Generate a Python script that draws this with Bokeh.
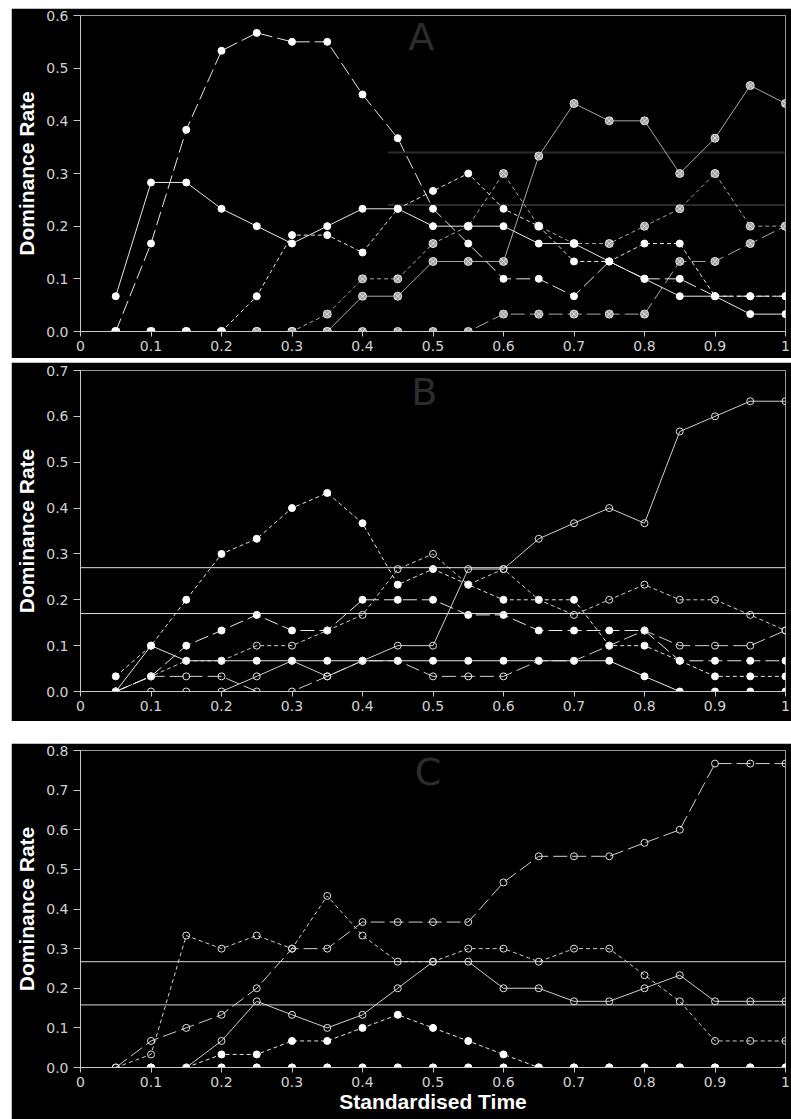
import math
from bokeh.plotting import figure
from bokeh.models import Span, Label, FixedTicker, Spacer
from bokeh.layouts import column, row
from bokeh.embed import file_html
from bokeh.resources import INLINE

nan = float("nan")

# ---------------- data ----------------
x = [0.05, 0.1, 0.15, 0.2, 0.25, 0.3, 0.35, 0.4, 0.45, 0.5,
     0.55, 0.6, 0.65, 0.7, 0.75, 0.8, 0.85, 0.9, 0.95, 1.0]

x_ticks = [0, 0.1, 0.2, 0.3, 0.4, 0.5, 0.6, 0.7, 0.8, 0.9, 1]
x_tick_labels = ["0", "0.1", "0.2", "0.3", "0.4", "0.5", "0.6", "0.7", "0.8", "0.9", "1"]

# Panel A
a_y_ticks = [0, 0.1, 0.2, 0.3, 0.4, 0.5, 0.6]
a_y_tick_labels = ["0.0", "0.1", "0.2", "0.3", "0.4", "0.5", "0.6"]
a_long_filled = [0, 0.167, 0.383, 0.533, 0.567, 0.55, 0.55, 0.45, 0.367, 0.233,
                 0.167, 0.1, 0.1, 0.067, 0.133, 0.1, 0.1, 0.067, 0.067, 0.067]
a_solid_filled = [0.067, 0.283, 0.283, 0.233, 0.2, 0.167, 0.2, 0.233, 0.233, 0.2,
                  0.2, 0.2, 0.167, 0.167, 0.133, 0.1, 0.067, 0.067, 0.033, 0.033]
a_short_filled = [0, 0, 0, 0, 0.067, 0.183, 0.183, 0.15, 0.233, 0.267,
                  0.3, 0.233, 0.2, 0.133, 0.133, 0.167, 0.167, 0.067, 0.067, 0.067]
a_solid_grey = [0, 0, 0, 0, 0, 0, 0, 0.067, 0.067, 0.133,
                0.133, 0.133, 0.333, 0.433, 0.4, 0.4, 0.3, 0.367, 0.467, 0.433]
a_short_grey = [0, 0, 0, 0, 0, 0, 0.033, 0.1, 0.1, 0.167,
                0.2, 0.3, 0.2, 0.167, 0.167, 0.2, 0.233, 0.3, 0.2, 0.2]
a_long_grey = [0, 0, 0, 0, 0, 0, 0, 0, 0, 0,
               0, 0.033, 0.033, 0.033, 0.033, 0.033, 0.133, 0.133, 0.167, 0.2]
a_ref_lines = [0.34, 0.24]
a_ref_start = 0.436

# Panel B
b_y_ticks = [0, 0.1, 0.2, 0.3, 0.4, 0.5, 0.6, 0.7]
b_y_tick_labels = ["0.0", "0.1", "0.2", "0.3", "0.4", "0.5", "0.6", "0.7"]
b_short_filled = [0.033, 0.1, 0.2, 0.3, 0.333, 0.4, 0.433, 0.367, 0.233, 0.267,
                  0.233, 0.2, 0.2, 0.2, 0.1, 0.1, 0.067, 0.033, 0.033, 0.033]
b_solid_filled = [0, 0.1, 0.067, 0.067, 0.067, 0.067, 0.067, 0.067, 0.067, 0.067,
                  0.067, 0.067, 0.067, 0.067, 0.067, 0.033, 0, 0, 0, 0]
b_long_filled = [0, 0.033, 0.1, 0.133, 0.167, 0.133, 0.133, 0.2, 0.2, 0.2,
                 0.167, 0.167, 0.133, 0.133, 0.133, 0.133, 0.067, 0.067, 0.067, 0.067]
b_solid_open = [0, 0, 0, 0, 0.033, 0.067, 0.033, 0.067, 0.1, 0.1,
                0.267, 0.267, 0.333, 0.367, 0.4, 0.367, 0.567, 0.6, 0.633, 0.633]
b_short_open = [0, 0.033, 0.067, 0.067, 0.1, 0.1, 0.133, 0.167, 0.267, 0.3,
                0.233, 0.267, 0.2, 0.167, 0.2, 0.233, 0.2, 0.2, 0.167, 0.133]
b_long_open = [0, 0.033, 0.033, 0.033, 0, 0, 0.033, 0.067, 0.067, 0.033,
               0.033, 0.033, 0.067, 0.067, 0.1, 0.133, 0.1, 0.1, 0.1, 0.133]
b_ref_lines = [0.27, 0.17]

# Panel C
c_y_ticks = [0, 0.1, 0.2, 0.3, 0.4, 0.5, 0.6, 0.7, 0.8]
c_y_tick_labels = ["0.0", "0.1", "0.2", "0.3", "0.4", "0.5", "0.6", "0.7", "0.8"]
c_short_open = [0, 0.033, 0.333, 0.3, 0.333, 0.3, 0.433, 0.333, 0.267, 0.267,
                0.3, 0.3, 0.267, 0.3, 0.3, 0.233, 0.167, 0.067, 0.067, 0.067]
c_long_open = [0, 0.067, 0.1, 0.133, 0.2, 0.3, 0.3, 0.367, 0.367, 0.367,
               0.367, 0.467, 0.533, 0.533, 0.533, 0.567, 0.6, 0.767, 0.767, 0.767]
c_solid_open = [nan, nan, 0, 0.067, 0.167, 0.133, 0.1, 0.133, 0.2, 0.267,
                0.267, 0.2, 0.2, 0.167, 0.167, 0.2, 0.233, 0.167, 0.167, 0.167]
c_short_filled = [nan, 0, 0, 0.033, 0.033, 0.067, 0.067, 0.1, 0.133, 0.1,
                  0.067, 0.033, 0, 0, 0, 0, 0, 0, 0, 0]
c_solid_filled = [nan, 0, nan, 0, 0, 0, 0, 0, 0, 0,
                  0, 0, 0, 0, 0, 0, 0, 0, 0, 0]
c_long_filled = [nan, 0, nan, 0, 0, 0, 0, 0, 0, 0,
                 0, 0, 0, 0, 0, 0, 0, 0, 0, 0]
c_ref_lines = [0.267, 0.158]

# ---------------- styling ----------------
SHORT = "4 3"
LONG = "14 5"
WHITE_LINE = "#e6e6e6"
GREY_LINE = "#a8a8a8"
OPEN_LINE = "#cfcfcf"
FIG_W = 780


def make_fig(height, y_max, y_ticks, y_labels, mb_left, mb_right, mb_top, mb_bottom, xlabel=None):
    p = figure(width=FIG_W, height=height, x_range=(0, 1), y_range=(0, y_max),
               output_backend="svg", toolbar_location=None,
               min_border_left=mb_left, min_border_right=mb_right,
               min_border_top=mb_top, min_border_bottom=mb_bottom)
    p.background_fill_color = "black"
    p.border_fill_color = "black"
    p.outline_line_color = "#9a9a9a"
    p.outline_line_width = 1
    p.xgrid.visible = False
    p.ygrid.visible = False
    p.xaxis.ticker = FixedTicker(ticks=x_ticks)
    p.xaxis.major_label_overrides = dict(zip(x_ticks, x_tick_labels))
    p.yaxis.ticker = FixedTicker(ticks=y_ticks)
    p.yaxis.major_label_overrides = dict(zip(y_ticks, y_labels))
    for ax in p.axis:
        ax.axis_line_color = "#c8c8c8"
        ax.major_tick_line_color = "#c8c8c8"
        ax.minor_tick_line_color = None
        ax.major_tick_in = 0
        ax.major_label_text_color = "#d2d2d2"
        ax.major_label_text_font = "DejaVu Sans"
        ax.major_label_text_font_size = "14px"
        ax.major_label_text_font_style = "normal"
    p.xaxis.major_tick_out = 5
    p.xaxis.major_label_standoff = 4
    p.yaxis.major_tick_out = 7
    p.yaxis.major_label_standoff = 5
    p.yaxis.axis_label = "Dominance Rate"
    p.yaxis.axis_label_text_font = "Liberation Sans"
    p.yaxis.axis_label_text_font_style = "bold"
    p.yaxis.axis_label_text_font_size = "21px"
    p.yaxis.axis_label_text_color = "white"
    p.yaxis.axis_label_standoff = 5
    if xlabel:
        p.xaxis.axis_label = xlabel
        p.xaxis.axis_label_text_font = "Liberation Sans"
        p.xaxis.axis_label_text_font_style = "bold"
        p.xaxis.axis_label_text_font_size = "21px"
        p.xaxis.axis_label_text_color = "white"
        p.xaxis.axis_label_standoff = 0
    return p


def series(p, y, dash, line_color, marker, fill, mline, size):
    p.line(x, y, line_color=line_color, line_width=1, line_dash=dash)
    return (y, marker, fill, mline, size)


def markers(p, specs):
    for y, marker, fill, mline, size in specs:
        p.scatter(x, y, marker=marker, size=size, fill_color=fill, line_color=mline, line_width=1)


def panel_letter(p, text, lx, ly):
    p.add_layout(Label(x=lx, y=ly, text=text, text_font="DejaVu Sans",
                       text_font_size="38px", text_color="#2c2c2c", text_align="left",
                       text_baseline="alphabetic"))


# ---------------- panel A ----------------
pA = make_fig(350, 0.6, a_y_ticks, a_y_tick_labels, 68, 6, 7, 27)
pA.segment(x0=[a_ref_start] * len(a_ref_lines), y0=a_ref_lines,
           x1=[1] * len(a_ref_lines), y1=a_ref_lines, line_color="#2e2a2a", line_width=2)
gA = []
gA.append(series(pA, a_long_grey, LONG, GREY_LINE, "circle_x", "#9c9c9c", "#e4e4e4", 8))
gA.append(series(pA, a_short_grey, SHORT, GREY_LINE, "circle_x", "#9c9c9c", "#e4e4e4", 8))
gA.append(series(pA, a_solid_grey, "solid", GREY_LINE, "circle_x", "#9c9c9c", "#e4e4e4", 8))
wA = []
wA.append(series(pA, a_short_filled, SHORT, WHITE_LINE, "circle", "white", "white", 7))
wA.append(series(pA, a_solid_filled, "solid", WHITE_LINE, "circle", "white", "white", 7))
wA.append(series(pA, a_long_filled, LONG, WHITE_LINE, "circle", "white", "white", 7))
markers(pA, gA)
markers(pA, wA)
panel_letter(pA, "A", 0.465, 0.559)

# ---------------- panel B ----------------
pB = make_fig(359, 0.7, b_y_ticks, b_y_tick_labels, 66, 1, 8, 30)
for v in b_ref_lines:
    pB.add_layout(Span(location=v, dimension="width", line_color="#e0e0e0", line_width=1))
oB = []
oB.append(series(pB, b_long_open, LONG, OPEN_LINE, "circle", None, "#e0e0e0", 7))
oB.append(series(pB, b_short_open, SHORT, OPEN_LINE, "circle", None, "#e0e0e0", 7))
oB.append(series(pB, b_solid_open, "solid", OPEN_LINE, "circle", None, "#e0e0e0", 7))
fB = []
fB.append(series(pB, b_long_filled, LONG, WHITE_LINE, "circle", "white", "white", 7))
fB.append(series(pB, b_solid_filled, "solid", WHITE_LINE, "circle", "white", "white", 7))
fB.append(series(pB, b_short_filled, SHORT, WHITE_LINE, "circle", "white", "white", 7))
markers(pB, fB)
markers(pB, oB)
panel_letter(pB, "B", 0.469, 0.654)

# ---------------- panel C ----------------
pC = make_fig(376, 0.8, c_y_ticks, c_y_tick_labels, 69, 1, 7, 52, xlabel="Standardised Time")
for v in c_ref_lines:
    pC.add_layout(Span(location=v, dimension="width", line_color="#d8d8d8", line_width=1))
fC = []
fC.append(series(pC, c_long_filled, LONG, WHITE_LINE, "circle", "white", "white", 7))
fC.append(series(pC, c_solid_filled, "solid", WHITE_LINE, "circle", "white", "white", 7))
fC.append(series(pC, c_short_filled, SHORT, WHITE_LINE, "circle", "white", "white", 7))
oC = []
oC.append(series(pC, c_solid_open, "solid", OPEN_LINE, "circle", None, "#e0e0e0", 7))
oC.append(series(pC, c_short_open, SHORT, OPEN_LINE, "circle", None, "#e0e0e0", 7))
oC.append(series(pC, c_long_open, LONG, OPEN_LINE, "circle", None, "#e0e0e0", 7))
markers(pC, fC)
markers(pC, oC)
panel_letter(pC, "C", 0.474, 0.747)

layout = column(Spacer(width=FIG_W + 11, height=8),
                row(Spacer(width=11, height=10),
                    column(pA, Spacer(width=FIG_W, height=4), pB,
                           Spacer(width=FIG_W, height=22), pC)))

open("out.html", "w").write(file_html(layout, INLINE))
